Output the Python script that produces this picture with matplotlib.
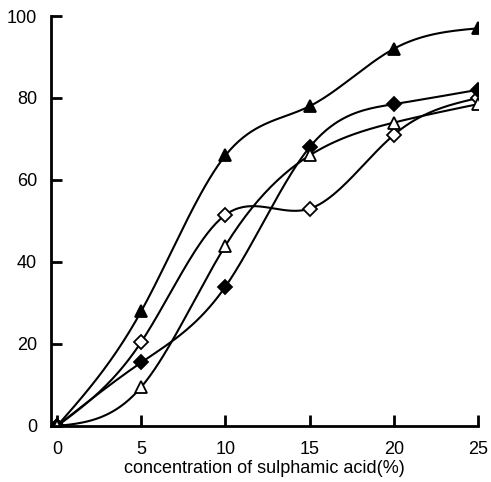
import numpy as np
import matplotlib.pyplot as plt

plt.rcParams['font.family'] = ['Liberation Sans', 'DejaVu Sans']

conc = [0, 5, 10, 15, 20, 25]
s_filled_tri = [0, 28, 66, 78, 92, 97]
s_open_dia = [0, 20.5, 51.5, 53, 71, 80]
s_filled_dia = [0, 15.5, 34, 68, 78.5, 82]
s_open_tri = [0, 9.5, 44, 66, 74, 78.5]


def spline(x, y, n=200):
    # natural cubic spline, just for drawing the smooth line
    x = np.asarray(x, float)
    y = np.asarray(y, float)
    m = len(x)
    h = np.diff(x)
    A = np.zeros((m, m))
    r = np.zeros(m)
    A[0, 0] = A[-1, -1] = 1
    for i in range(1, m - 1):
        A[i, i - 1] = h[i - 1]
        A[i, i] = 2 * (h[i - 1] + h[i])
        A[i, i + 1] = h[i]
        r[i] = 6 * ((y[i + 1] - y[i]) / h[i] - (y[i] - y[i - 1]) / h[i - 1])
    M = np.linalg.solve(A, r)
    xs = np.linspace(x[0], x[-1], n)
    ys = np.empty_like(xs)
    for k, t in enumerate(xs):
        i = min(np.searchsorted(x, t, side='right') - 1, m - 2)
        a, b = x[i], x[i + 1]
        hh = b - a
        ys[k] = (M[i] * (b - t) ** 3 / (6 * hh) + M[i + 1] * (t - a) ** 3 / (6 * hh)
                 + (y[i] / hh - M[i] * hh / 6) * (b - t)
                 + (y[i + 1] / hh - M[i + 1] * hh / 6) * (t - a))
    return xs, ys


fig = plt.figure(figsize=(4.91, 4.82), dpi=100)
ax = fig.add_axes([51 / 491, 56 / 482, 427 / 491, 410 / 482])

series = [
    (s_filled_tri, '^', 'black'),
    (s_open_dia, 'D', 'white'),
    (s_filled_dia, 'D', 'black'),
    (s_open_tri, '^', 'white'),
]
for ys, mk, fc in series:
    xs_s, ys_s = spline(conc, ys)
    ax.plot(xs_s, ys_s, color='black', lw=1.5)
    ax.plot(conc, ys, ls='none', marker=mk, ms=8 if mk == '^' else 7,
            mfc=fc, mec='black', mew=1.3)

ax.set_xlim(-0.36, 25)
ax.set_ylim(0, 100)
ax.set_xticks([0, 5, 10, 15, 20, 25])
ax.set_yticks([0, 20, 40, 60, 80, 100])
ax.spines['top'].set_visible(False)
ax.spines['right'].set_visible(False)
ax.spines['left'].set_linewidth(2)
ax.spines['bottom'].set_linewidth(2)
ax.tick_params(direction='in', length=8, width=2, labelsize=13)
ax.tick_params(axis='x', pad=11)
ax.tick_params(axis='y', pad=10)
ax.set_xlabel('concentration of sulphamic acid(%)', fontsize=13, labelpad=1)

fig.savefig('out.png', dpi=100)
